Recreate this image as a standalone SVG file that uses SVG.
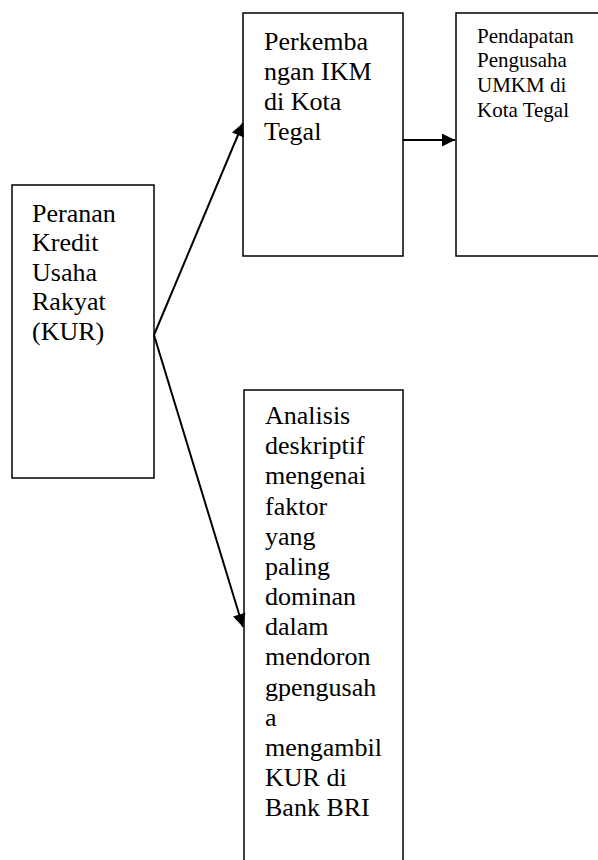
<svg xmlns="http://www.w3.org/2000/svg" width="598" height="860" viewBox="0 0 598 860">
<style>
.box{fill:#fff;stroke:#000;stroke-width:1.5}
.t{font-size:26px;fill:#000}
.ts{font-size:21px;fill:#000}
.c{stroke:#000;stroke-width:2;fill:none}
</style>
<defs>
<marker id="ah" viewBox="0 0 10 10" refX="10" refY="5" markerWidth="16" markerHeight="13" markerUnits="userSpaceOnUse" orient="auto">
<path d="M0,0 L10,5 L0,10 z" fill="#000"/>
</marker>
</defs>
<g font-family="'Liberation Serif', 'Times New Roman', Times, serif">
<g id="node-kur">
<rect class="box" x="12" y="185" width="142" height="293"/>
<text class="t" x="32" y="222">Peranan</text>
<text class="t" x="32" y="251">Kredit</text>
<text class="t" x="32" y="281">Usaha</text>
<text class="t" x="32" y="310">Rakyat</text>
<text class="t" x="32" y="340">(KUR)</text>
</g>
<g id="node-ikm">
<rect class="box" x="243" y="13" width="160" height="243"/>
<text class="t" x="264" y="50">Perkemba</text>
<text class="t" x="264" y="80">ngan IKM</text>
<text class="t" x="264" y="110">di Kota</text>
<text class="t" x="264" y="140">Tegal</text>
</g>
<g id="node-pendapatan">
<rect class="box" x="456" y="13" width="150" height="243"/>
<text class="ts" x="477" y="43">Pendapatan</text>
<text class="ts" x="477" y="67">Pengusaha</text>
<text class="ts" x="477" y="92">UMKM di</text>
<text class="ts" x="477" y="117">Kota Tegal</text>
</g>
<g id="node-analisis">
<rect class="box" x="244" y="390" width="159" height="480"/>
<text class="t" x="265" y="424">Analisis</text>
<text class="t" x="265" y="454">deskriptif</text>
<text class="t" x="265" y="484">mengenai</text>
<text class="t" x="265" y="515">faktor</text>
<text class="t" x="265" y="545">yang</text>
<text class="t" x="265" y="575">paling</text>
<text class="t" x="265" y="605">dominan</text>
<text class="t" x="265" y="635">dalam</text>
<text class="t" x="265" y="665">mendoron</text>
<text class="t" x="265" y="696">gpengusah</text>
<text class="t" x="265" y="726">a</text>
<text class="t" x="265" y="756">mengambil</text>
<text class="t" x="265" y="786">KUR di</text>
<text class="t" x="265" y="816">Bank BRI</text>
</g>
</g>
<g id="connectors">
<line class="c" x1="154" y1="335" x2="243" y2="123" marker-end="url(#ah)"/>
<line class="c" x1="154" y1="335" x2="243" y2="627" marker-end="url(#ah)"/>
<line class="c" x1="403" y1="140" x2="455" y2="140" marker-end="url(#ah)"/>
</g>
</svg>
